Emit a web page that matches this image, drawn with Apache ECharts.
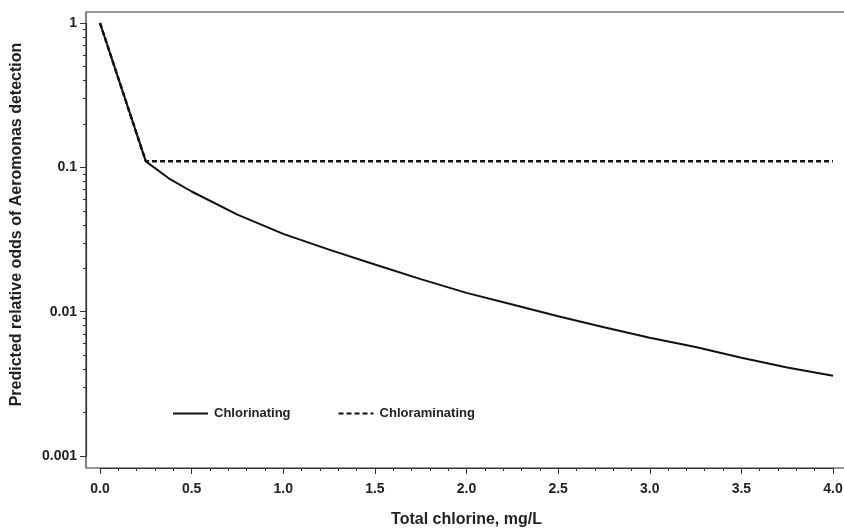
<!DOCTYPE html>
<html>
<head>
<meta charset="utf-8">
<script src="https://cdn.jsdelivr.net/npm/echarts@6/dist/echarts.min.js"></script>
<style>
  html, body { margin: 0; padding: 0; background: #fff; }
  #chart { width: 844px; height: 529px; }
</style>
</head>
<body>
<div id="chart"></div>
<script>
// chlorine dose (mg/L) and predicted odds
var chlorX = [0, 0.25, 0.375, 0.5, 0.75, 1.0, 1.25, 1.5, 1.75, 2.0, 2.25, 2.5, 2.75, 3.0, 3.25, 3.5, 3.75, 4.0];
var chlorinating = [1, 0.11, 0.084, 0.068, 0.047, 0.0346, 0.0269, 0.0212, 0.0168, 0.0135, 0.0112, 0.0093, 0.0078, 0.0066, 0.0057, 0.0048, 0.0041, 0.0036];
var chloramX = [0, 0.25, 4.0];
var chloraminating = [1, 0.11, 0.11];
// minor log ticks on y
var yMinorTicks = [0.002, 0.003, 0.004, 0.005, 0.006, 0.007, 0.008, 0.009,
  0.02, 0.03, 0.04, 0.05, 0.06, 0.07, 0.08, 0.09,
  0.2, 0.3, 0.4, 0.5, 0.6, 0.7, 0.8, 0.9];

function pairs(xs, ys) {
  var out = [];
  for (var i = 0; i < xs.length; i++) {
    out.push([xs[i], ys[i]]);
  }
  return out;
}

var font = "'Liberation Sans', Arial, sans-serif";
var myChart = echarts.init(document.getElementById("chart"));

var option = {
  animation: false,
  backgroundColor: "#fff",
  textStyle: { fontFamily: font },
  grid: {
    left: 100,
    width: 733,
    top: 23,
    height: 433,
    containLabel: false,
    outerBoundsMode: "none"
  },
  // frame around plot (right side cut off in original)
  graphic: [{
    type: "rect",
    shape: { x: 86, y: 12, width: 780, height: 456 },
    style: { fill: null, stroke: "#333", lineWidth: 1.2 },
    silent: true
  }],
  legend: {
    left: 167,
    top: 402,
    itemWidth: 35,
    itemHeight: 14,
    itemGap: 47,
    itemStyle: { opacity: 0 },
    textStyle: { fontFamily: font, fontSize: 13, fontWeight: "bold", color: "#222", padding: [0, 0, 0, 1] },
    data: ["Chlorinating", "Chloraminating"]
  },
  xAxis: {
    type: "value",
    min: 0,
    max: 4,
    interval: 0.5,
    offset: 12,
    name: "Total chlorine, mg/L",
    nameLocation: "middle",
    nameGap: 44,
    nameTextStyle: { fontFamily: font, fontSize: 16, fontWeight: "bold", color: "#222" },
    axisLine: { show: true, onZero: false, lineStyle: { color: "#333", width: 1.2 } },
    axisTick: { show: true, inside: false, length: 6, lineStyle: { color: "#333" } },
    minorTick: { show: true, splitNumber: 5, length: 3, lineStyle: { color: "#333" } },
    axisLabel: {
      margin: 14,
      fontFamily: font,
      fontSize: 14,
      fontWeight: "bold",
      color: "#222",
      formatter: function (v) { return v.toFixed(1); }
    },
    splitLine: { show: false }
  },
  yAxis: [{
    type: "log",
    logBase: 10,
    min: 0.001,
    max: 1,
    position: "left",
    offset: 14,
    name: "Predicted relative odds of Aeromonas detection",
    nameLocation: "middle",
    nameGap: 61,
    nameTextStyle: { fontFamily: font, fontSize: 16, fontWeight: "bold", color: "#222", padding: [0, 0, 0, 30] },
    axisLine: { show: true, onZero: false, lineStyle: { color: "#333", width: 1.2 } },
    axisTick: { show: true, inside: false, length: 6, lineStyle: { color: "#333" } },
    axisLabel: {
      margin: 9,
      fontFamily: font,
      fontSize: 14,
      fontWeight: "bold",
      color: "#222"
    },
    splitLine: { show: false }
  }, {
    type: "log",
    logBase: 10,
    min: 0.001,
    max: 1,
    position: "left",
    offset: 14,
    axisLine: { show: false, onZero: false },
    axisTick: { show: true, inside: false, length: 3, customValues: yMinorTicks, lineStyle: { color: "#333" } },
    axisLabel: { show: false },
    splitLine: { show: false }
  }],
  series: [{
    name: "Chlorinating",
    type: "line",
    symbol: "none",
    smooth: false,
    lineStyle: { color: "#111", width: 2 },
    itemStyle: { color: "#111" },
    data: pairs(chlorX, chlorinating)
  }, {
    name: "Chloraminating",
    type: "line",
    symbol: "none",
    smooth: false,
    lineStyle: { color: "#111", width: 2.5, type: [5, 3] },
    itemStyle: { color: "#111" },
    data: pairs(chloramX, chloraminating)
  }]
};

myChart.setOption(option);
</script>
</body>
</html>
